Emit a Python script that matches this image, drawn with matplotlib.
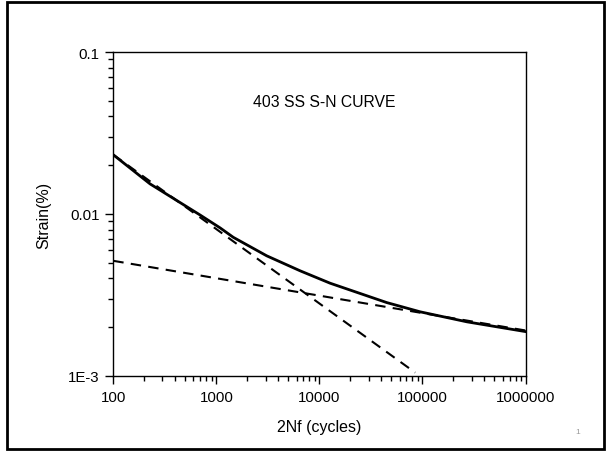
#!/usr/bin/env python3
"""403 SS strain-life (S-N) curve"""
import matplotlib
matplotlib.use('agg')
import matplotlib.pyplot as plt
from matplotlib.patches import Rectangle
from matplotlib.ticker import LogLocator, FixedLocator, NullFormatter

# values
total_n = [100, 227, 695, 1090, 1460, 3080, 6500, 12700, 45000, 95000, 270000, 1000000]
total_strain = [0.0232, 0.01535, 0.00986, 0.0082, 0.00718, 0.00552, 0.00446, 0.00374,
                0.00284, 0.00249, 0.00216, 0.00188]
elastic_n = [100, 1000000]
elastic_strain = [0.00514, 0.00191]
plastic_n = [100, 85000]
plastic_strain = [0.0232, 0.00105]

x_ticks = [100, 1000, 10000, 100000, 1000000]
x_labels = ['100', '1000', '10000', '100000', '1000000']
y_ticks = [0.001, 0.01, 0.1]
y_labels = ['1E-3', '0.01', '0.1']


def main():
    plt.rcParams['font.family'] = ['Liberation Sans', 'DejaVu Sans']
    fig = plt.figure(figsize=(6.06, 4.52), dpi=100)
    fig.patches.append(Rectangle((7 / 606, 2 / 452), 597 / 606, 447 / 452,
                                 transform=fig.transFigure, fill=False,
                                 edgecolor='black', linewidth=2))
    ax = fig.add_axes([113.3 / 606, 75 / 452, 412.2 / 606, 324 / 452])

    ax.plot(plastic_n, plastic_strain, color='black', lw=1.5, ls=(0, (5, 3.5)))
    ax.plot(elastic_n, elastic_strain, color='black', lw=1.5, ls=(0, (5, 3.5)))
    ax.plot(total_n, total_strain, color='black', lw=2.0)

    ax.set_xscale('log')
    ax.set_yscale('log')
    ax.set_xlim(100, 1000000)
    ax.set_ylim(0.001, 0.1)
    ax.xaxis.set_major_locator(FixedLocator(x_ticks))
    ax.set_xticklabels(x_labels)
    ax.yaxis.set_major_locator(FixedLocator(y_ticks))
    ax.set_yticklabels(y_labels)
    ax.xaxis.set_minor_locator(LogLocator(base=10, subs=range(2, 10)))
    ax.yaxis.set_minor_locator(LogLocator(base=10, subs=range(2, 10)))
    ax.xaxis.set_minor_formatter(NullFormatter())
    ax.yaxis.set_minor_formatter(NullFormatter())
    ax.tick_params(which='major', length=6, width=1, labelsize=10.8, direction='out', pad=4)
    ax.tick_params(which='minor', length=3.5, width=1, direction='out')
    for sp in ax.spines.values():
        sp.set_linewidth(1)

    ax.set_xlabel('2Nf (cycles)', fontsize=11.5, labelpad=11)
    ax.set_ylabel('Strain(%)', fontsize=11.5, labelpad=12)
    ax.text(0.511, 0.846, '403 SS S-N CURVE', transform=ax.transAxes,
            ha='center', va='center', fontsize=11.3)
    fig.text(578 / 606, 1 - 433 / 452, '1', fontsize=6, color='#999999',
             ha='center', va='center')

    fig.savefig('out.png', dpi=100)


if __name__ == '__main__':
    main()
